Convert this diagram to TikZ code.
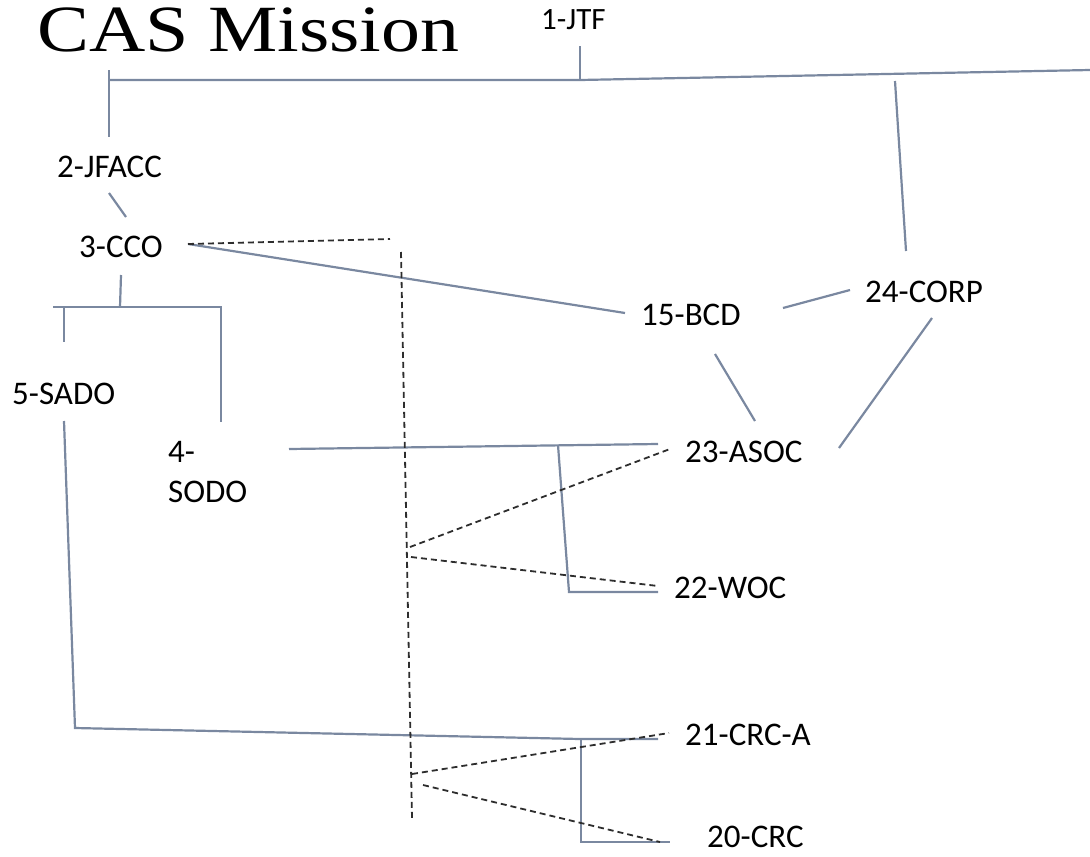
\documentclass[tikz,border=0pt]{standalone}
\usepackage{fontspec}
\setmainfont{Carlito}
\newfontfamily\titlefont{Liberation Serif}
\definecolor{lnk}{RGB}{122,136,160}
\definecolor{dsh}{RGB}{45,45,45}
\begin{document}
\begin{tikzpicture}[x=1pt,y=-1pt,
  lbl/.style={inner sep=0pt, anchor=base west, font=\fontsize{33}{40}\selectfont, text=black},
  link/.style={draw=lnk, line width=2.2pt},
  dlink/.style={draw=dsh, line width=1.8pt, dash pattern=on 6pt off 4pt}]
\useasboundingbox (0,0) rectangle (1090,857);
% title and labels
\node[inner sep=0pt, anchor=base west, font=\titlefont\fontsize{66}{70}\selectfont, xscale=1.18] (title) at (37,51) {CAS Mission};
\node[lbl, font=\fontsize{31}{36}\selectfont] (jtf) at (541,29) {1-JTF};
\node[lbl] (jfacc) at (57,177) {2-JFACC};
\node[lbl] (cco) at (79,257) {3-CCO};
\node[lbl] (sado) at (12,404) {5-SADO};
\node[lbl, align=left] (sodo) at (168,502) {4-\\SODO};
\node[lbl] (bcd) at (641,325) {15-BCD};
\node[lbl] (corp) at (865,302) {24-CORP};
\node[lbl] (asoc) at (685,462) {23-ASOC};
\node[lbl] (woc) at (674,598) {22-WOC};
\node[lbl] (crca) at (685,745) {21-CRC-A};
\node[lbl] (crc) at (707,847) {20-CRC};
% coordinates
\coordinate (topL) at (109,70);
\coordinate (jfaccN) at (109,137);
\coordinate (barL) at (109,80);
\coordinate (barM) at (580,80);
\coordinate (barR) at (1090,70);
\coordinate (jtfS) at (580,46);
\coordinate (corpUp) at (895,81);
\coordinate (corpN) at (906,251);
\coordinate (jfaccS) at (109,193);
\coordinate (ccoN) at (126,217);
\coordinate (ccoE) at (188,244);
\coordinate (bcdW) at (625,313);
\coordinate (ccoS) at (121,275);
\coordinate (brM) at (120,307);
\coordinate (brL) at (53,307);
\coordinate (brR) at (221,307);
\coordinate (brSL) at (64,307);
\coordinate (sadoN) at (64,342);
\coordinate (sodoN) at (221,422);
\coordinate (sadoS) at (64,421);
\coordinate (sadoC) at (75,728);
\coordinate (crcJ) at (580,739);
\coordinate (crcaW) at (658,739);
\coordinate (crcT) at (581,739);
\coordinate (crcB) at (581,842);
\coordinate (crcW) at (670,842);
\coordinate (sodoE) at (289,449);
\coordinate (asocW) at (658,444);
\coordinate (wocT) at (558,445);
\coordinate (wocB) at (569,592);
\coordinate (wocW) at (658,592);
\coordinate (bcdE) at (783,308);
\coordinate (corpW) at (850,290);
\coordinate (bcdS) at (715,354);
\coordinate (asocN) at (755,421);
\coordinate (corpS) at (932,318);
\coordinate (asocE) at (839,448);
% dashed coordinates
\coordinate (dccoE) at (390,239);
\coordinate (vT) at (401,252);
\coordinate (vB) at (412,818);
\coordinate (dA1) at (410,547);
\coordinate (dA2) at (670,449);
\coordinate (dW1) at (411,557);
\coordinate (dW2) at (658,586);
\coordinate (dC1) at (412,774);
\coordinate (dC2) at (669,733);
\coordinate (dR1) at (423,785);
\coordinate (dR2) at (660,842);
% solid connectors
\draw[link] (topL) -- (jfaccN);
\draw[link] (barL) -- (barM) -- (barR);
\draw[link] (jtfS) -- (barM);
\draw[link] (corpUp) -- (corpN);
\draw[link] (jfaccS) -- (ccoN);
\draw[link] (ccoE) -- (bcdW);
\draw[link] (ccoS) -- (brM);
\draw[link] (brL) -- (brR) -- (sodoN);
\draw[link] (brSL) -- (sadoN);
\draw[link] (sadoS) -- (sadoC) -- (crcJ) -- (crcaW);
\draw[link] (crcT) -- (crcB) -- (crcW);
\draw[link] (sodoE) -- (asocW);
\draw[link] (wocT) -- (wocB) -- (wocW);
\draw[link] (bcdE) -- (corpW);
\draw[link] (bcdS) -- (asocN);
\draw[link] (corpS) -- (asocE);
% dashed connectors
\draw[dlink] (ccoE) -- (dccoE);
\draw[dlink] (vT) -- (vB);
\draw[dlink] (dA1) -- (dA2);
\draw[dlink] (dW1) -- (dW2);
\draw[dlink] (dC1) -- (dC2);
\draw[dlink] (dR1) -- (dR2);
\end{tikzpicture}
\end{document}
